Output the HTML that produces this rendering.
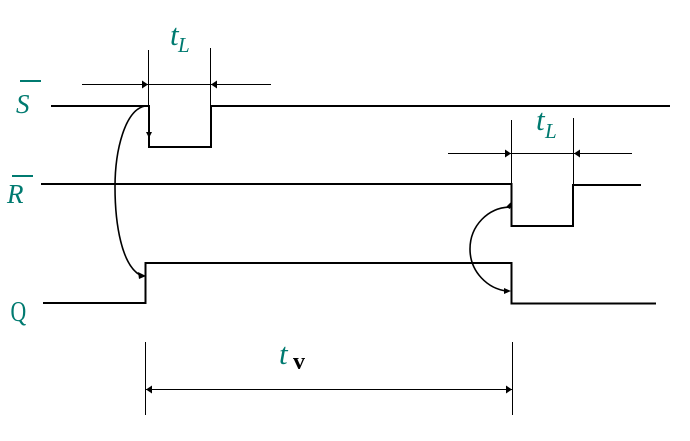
<!DOCTYPE html>
<html>
<head>
<meta charset="utf-8">
<style>
html,body{margin:0;padding:0;background:#fff;width:690px;height:441px;overflow:hidden}
svg{display:block;position:absolute;left:0;top:0}
text{font-family:"Liberation Serif",serif;fill:#007a70}
.i{font-style:italic}
</style>
</head>
<body>
<svg width="690" height="441" viewBox="0 0 690 441" xmlns="http://www.w3.org/2000/svg">
<g fill="none" stroke="#000" stroke-width="2" shape-rendering="crispEdges">
<path d="M51 106H149V147H211V106H670"/>
<path d="M41 184H511.500V226H573V185H641"/>
<path d="M43 303H145.500V263H511.500V303.500H656"/>
</g>
<g fill="none" stroke="#000" stroke-width="1" shape-rendering="crispEdges">
<path d="M148.500 50V106"/>
<path d="M210.500 48V106"/>
<path d="M82 84.500H271"/>
<path d="M511.500 120V184"/>
<path d="M573.500 118V185"/>
<path d="M448 153.500H632"/>
<path d="M145.500 342V415"/>
<path d="M512.500 342V415"/>
<path d="M146 389.500H512"/>
</g>
<g fill="#000">
<path d="M148 84.500l-6-4v8z"/>
<path d="M211 84.500l6-4v8z"/>
<path d="M511 153.500l-6-4v8z"/>
<path d="M574 153.500l6-4v8z"/>
<path d="M146 389.500l6-4v8z"/>
<path d="M512 389.500l-6-4v8z"/>
<path d="M149 138l-3-6h6z"/>
<path d="M146 276l-8-4 1 7z"/>
<path d="M512 201l-2 8-4-2z"/>
<path d="M511 291l-7-3v6z"/>
</g>
<g fill="none" stroke="#000" stroke-width="1.600">
<path d="M145 106C125 110 115 150 115 187C115 225 122 265 140 275"/>
<path d="M511 207C488 207 470 226 470 249C470 272 488 289 507 291"/>
</g>
<rect x="20" y="80" width="21" height="2" fill="#007a70"/>
<rect x="12" y="175" width="21" height="2" fill="#007a70"/>
<text class="i" x="16" y="113" font-size="27">S</text>
<text class="i" x="7" y="203" font-size="27">R</text>
<text transform="translate(10.500 321) scale(.75 1)" font-size="29">Q</text>
<text class="i" x="170" y="45" font-size="31">t</text>
<text class="i" x="178" y="52" font-size="21">L</text>
<text class="i" x="536" y="130" font-size="31">t</text>
<text class="i" x="545" y="138" font-size="21">L</text>
<text class="i" x="279" y="364" font-size="31">t</text>
<text x="293" y="369" font-size="24" font-weight="bold" style="fill:#000">v</text>
</svg>
</body>
</html>
